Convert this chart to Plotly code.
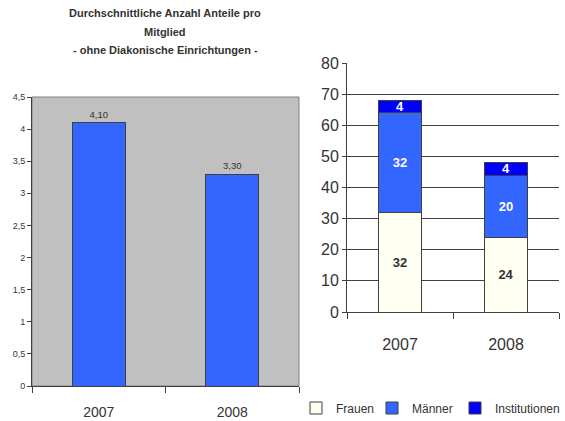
import plotly.graph_objects as go

YEARS = ["2007", "2008"]

# left panel: average shares per member
ANTEILE = [4.10, 3.30]

# right panel: stacked composition
FRAUEN = [32, 24]
MAENNER = [32, 20]
INSTITUTIONEN = [4, 4]

LEFT_TICKS = [0, 0.5, 1, 1.5, 2, 2.5, 3, 3.5, 4, 4.5]

BLUE = "#3366FF"
DARK_BLUE = "#0000FF"
IVORY = "#FFFFF2"
EDGE = "#404040"
TXT = "#333333"
RFONT = "Liberation Sans, Arial, sans-serif"

fig = go.Figure()

fig.add_trace(
    go.Bar(
        x=YEARS,
        y=ANTEILE,
        marker=dict(color=BLUE, line=dict(color=EDGE, width=1)),
        texttemplate="%{y:.2f}",
        textposition="outside",
        textfont=dict(family="Arial", size=9.5, color=TXT),
        cliponaxis=False,
        showlegend=False,
        xaxis="x",
        yaxis="y",
    )
)

stack = [
    ("Frauen", FRAUEN, IVORY, TXT, "legend"),
    ("Männer", MAENNER, BLUE, "white", "legend2"),
    ("Institutionen", INSTITUTIONEN, DARK_BLUE, "white", "legend3"),
]
for name, vals, color, tcolor, leg in stack:
    fig.add_trace(
        go.Bar(
            x=YEARS,
            y=vals,
            name=name,
            legend=leg,
            marker=dict(color=color, line=dict(color=EDGE, width=1)),
            text=vals,
            textposition="inside",
            insidetextanchor="middle",
            constraintext="none",
            textangle=0,
            textfont=dict(family=RFONT, size=13, color=tcolor, weight="bold"),
            xaxis="x2",
            yaxis="y2",
        )
    )


def legend_at(px):
    return dict(
        x=px / 565,
        y=1 - 408 / 421,
        xanchor="left",
        yanchor="middle",
        orientation="h",
        bgcolor="rgba(0,0,0,0)",
        borderwidth=0,
        itemwidth=30,
        font=dict(family=RFONT, size=12, color=TXT),
    )


fig.update_layout(
    width=565,
    height=421,
    margin=dict(l=0, r=0, t=0, b=0, autoexpand=False),
    paper_bgcolor="white",
    plot_bgcolor="white",
    separators=",.",
    barmode="stack",
    bargap=0.6,
    showlegend=True,
    legend=legend_at(296),
    legend2=legend_at(372),
    legend3=legend_at(455),
    xaxis=dict(
        domain=[32 / 565, 299 / 565],
        anchor="y",
        showline=True,
        linecolor=EDGE,
        ticks="outside",
        tickson="boundaries",
        ticklen=6,
        tickcolor=EDGE,
        tickfont=dict(family="Arial", size=14, color=TXT),
        ticklabelstandoff=13,
    ),
    yaxis=dict(
        domain=[1 - 386 / 421, 1 - 97 / 421],
        anchor="x",
        range=[0, 4.5],
        tickvals=LEFT_TICKS,
        showgrid=False,
        zeroline=False,
        showline=True,
        linecolor=EDGE,
        ticks="outside",
        ticklen=4,
        tickcolor=EDGE,
        tickfont=dict(family="Arial", size=9, color=TXT),
    ),
    xaxis2=dict(
        domain=[347 / 565, 559 / 565],
        anchor="y2",
        showline=True,
        linecolor=EDGE,
        ticks="outside",
        tickson="boundaries",
        ticklen=6,
        tickcolor=EDGE,
        tickfont=dict(family=RFONT, size=16, color=TXT),
        ticklabelstandoff=18,
    ),
    yaxis2=dict(
        domain=[1 - 312 / 421, 1 - 63 / 421],
        anchor="x2",
        range=[0, 80],
        dtick=10,
        showgrid=True,
        gridcolor=EDGE,
        gridwidth=1,
        zeroline=False,
        showline=True,
        linecolor=EDGE,
        ticks="outside",
        ticklen=4,
        tickcolor=EDGE,
        tickfont=dict(family=RFONT, size=16, color=TXT),
    ),
    shapes=[
        dict(
            type="rect",
            xref="x domain",
            yref="y domain",
            x0=0,
            x1=1,
            y0=0,
            y1=1,
            fillcolor="#C0C0C0",
            line=dict(color="#808080", width=1),
            layer="below",
        )
    ],
)

for i, line in enumerate(
    [
        "Durchschnittliche Anzahl Anteile pro",
        "Mitglied",
        "- ohne Diakonische Einrichtungen -",
    ]
):
    fig.add_annotation(
        text=f"<b>{line}</b>",
        xref="paper",
        yref="paper",
        x=165 / 565,
        y=1 - (13 + 18.5 * i) / 421,
        xanchor="center",
        yanchor="middle",
        showarrow=False,
        font=dict(family="Arial", size=11, color=TXT),
    )

# drop the browser's default 8px body margin so the figure sits at the corner
fig.write_html(
    "out.html",
    config={"displayModeBar": False},
    post_script="document.body.style.margin='0';",
)
